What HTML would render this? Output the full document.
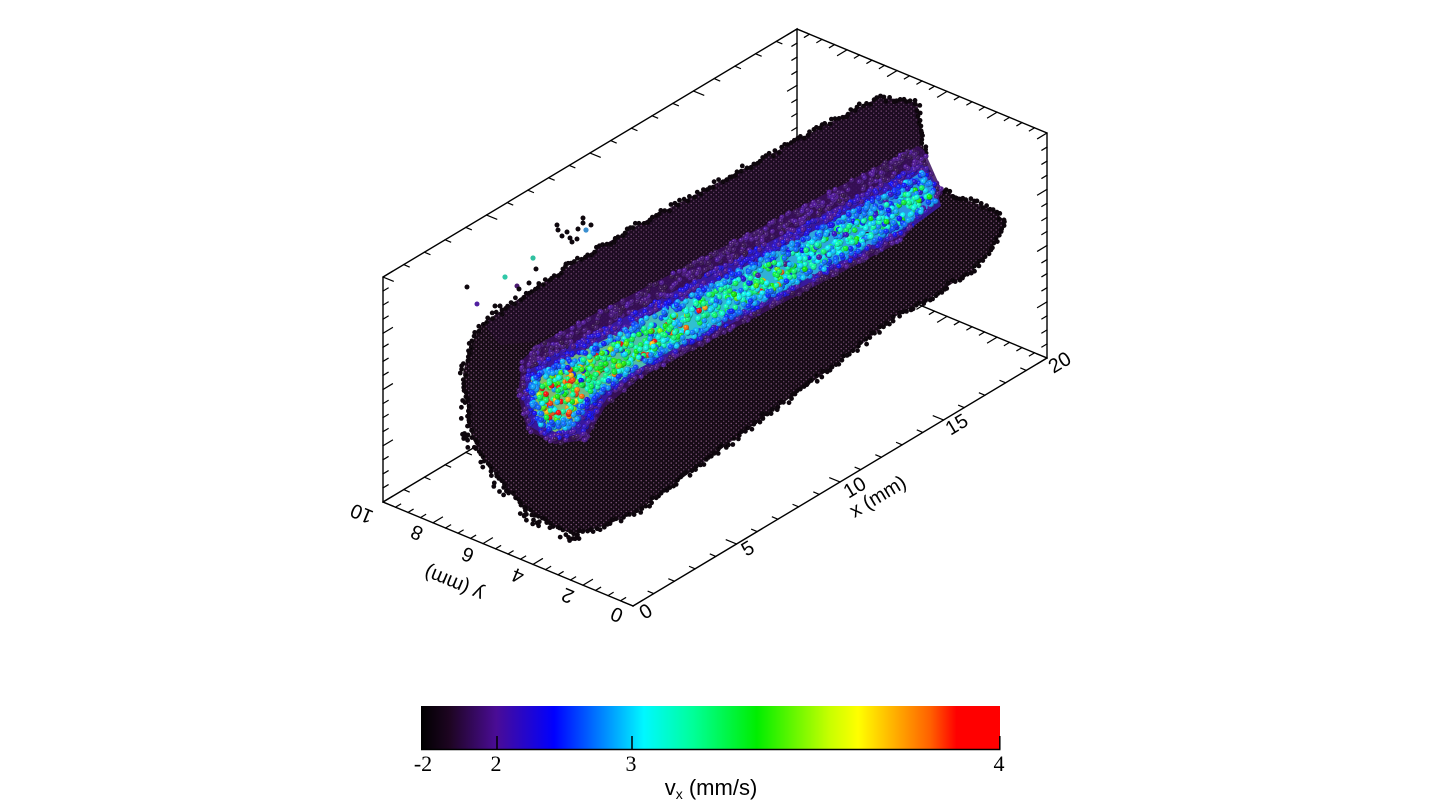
<!DOCTYPE html>
<html><head><meta charset="utf-8">
<style>
html,body{margin:0;padding:0;background:#fff;}
body{width:1440px;height:807px;overflow:hidden;position:relative;}
svg{position:absolute;left:0;top:0;}
</style></head>
<body>
<svg id="s" width="1440" height="807" viewBox="0 0 1440 807" xmlns="http://www.w3.org/2000/svg">
<defs>
 <pattern id="speck" width="5" height="4.4" patternUnits="userSpaceOnUse">
   <rect width="5" height="4.4" fill="#150a14"/>
   <circle cx="1.2" cy="1.1" r="0.7" fill="#8a5c86"/>
   <circle cx="3.7" cy="3.3" r="0.7" fill="#6e4a70"/>
 </pattern>
 <linearGradient id="cb" x1="0" x2="1" y1="0" y2="0">
  <stop offset="0" stop-color="#000000"/>
  <stop offset="0.05" stop-color="#1e0522"/>
  <stop offset="0.13" stop-color="#4a0c96"/>
  <stop offset="0.23" stop-color="#0000ff"/>
  <stop offset="0.31" stop-color="#0080ff"/>
  <stop offset="0.385" stop-color="#00f8ff"/>
  <stop offset="0.47" stop-color="#00ff99"/>
  <stop offset="0.58" stop-color="#00ee00"/>
  <stop offset="0.706" stop-color="#c8ff00"/>
  <stop offset="0.755" stop-color="#ffff00"/>
  <stop offset="0.83" stop-color="#ffa000"/>
  <stop offset="0.88" stop-color="#ff6000"/>
  <stop offset="0.925" stop-color="#ff0000"/>
  <stop offset="1" stop-color="#ff0000"/>
 </linearGradient>
 <linearGradient id="coreg" gradientUnits="userSpaceOnUse" x1="530" y1="0" x2="935" y2="0">
  <stop offset="0" stop-color="#8ab860"/>
  <stop offset="0.4" stop-color="#30c0d0"/>
  <stop offset="1" stop-color="#2a90e8"/>
 </linearGradient>
 <radialGradient id="sh" cx="0.35" cy="0.35" r="0.7">
  <stop offset="0" stop-color="#fff" stop-opacity="0.5"/>
  <stop offset="0.35" stop-color="#fff" stop-opacity="0"/>
  <stop offset="1" stop-color="#000" stop-opacity="0.5"/>
 </radialGradient>
</defs>

<!-- box lines -->
<g stroke="#000" stroke-width="1.4" fill="none" stroke-linecap="square">
 <path d="M383 502 L383 277 L797 29 L797 254 M797 29 L1047 133 L1047 358 M383 502 L797 254 L1047 358 M633 606 L1047 358 M633 606 L383 502"/>
 <path id="ticks" stroke-width="1.2" d=""/>
</g>

<!-- stray particles -->
<g id="stray">
 <circle cx="557" cy="225" r="2.5" fill="#0e070d"/>
 <circle cx="558" cy="230" r="2.5" fill="#0e070d"/>
 <circle cx="567" cy="232" r="2.5" fill="#0e070d"/>
 <circle cx="562" cy="236" r="2.5" fill="#0e070d"/>
 <circle cx="570" cy="238" r="2.5" fill="#0e070d"/>
 <circle cx="572" cy="242" r="2.5" fill="#0e070d"/>
 <circle cx="577" cy="239" r="2.5" fill="#0e070d"/>
 <circle cx="578" cy="229" r="2.5" fill="#0e070d"/>
 <circle cx="583" cy="218" r="2.5" fill="#0e070d"/>
 <circle cx="583" cy="223" r="2.5" fill="#0e070d"/>
 <circle cx="591" cy="225" r="2.5" fill="#0e070d"/>
 <circle cx="586" cy="230" r="2.6" fill="#3a8fd0"/>
 <circle cx="533" cy="258" r="2.6" fill="#30c0a0"/>
 <circle cx="536" cy="269" r="2.5" fill="#0e070d"/>
 <circle cx="566" cy="264" r="2.5" fill="#0e070d"/>
 <circle cx="505" cy="277" r="2.6" fill="#30c8a8"/>
 <circle cx="467" cy="287" r="2.5" fill="#0e070d"/>
 <circle cx="517" cy="286" r="2.5" fill="#4a1a70"/>
 <circle cx="519" cy="289" r="2.5" fill="#0e070d"/>
 <circle cx="529" cy="283" r="2.5" fill="#0e070d"/>
 <circle cx="477" cy="304" r="2.5" fill="#5020a0"/>
 <circle cx="495" cy="306" r="2.5" fill="#0e070d"/>
 <circle cx="500" cy="306" r="2.5" fill="#0e070d"/>
 <circle cx="643" cy="243" r="2.5" fill="#3070c8"/>
</g>

<!-- body -->
<path id="body" fill="url(#speck)" d="M483,323 L520,298 L560,272 L600,247 L643,222 L700,192 L760,160 L820,128 L867,103 L880,98 L900,99 L917,103 L920,120 L923,143 L925,170 L933,187 L960,197 L993,210 L1006,222 L1000,235 L990,250 L983,260 L973,270 L953,283 L923,303 L900,313 L867,340 L833,367 L787,400 L720,450 L653,500 L640,510 L607,525 L580,533 L567,532 L547,523 L527,510 L507,490 L487,463 L473,440 L467,420 L467,400 L463,373 L470,347 L480,327 Z"/>
<path fill="#3a1050" opacity="0.2" d="M483,323 L520,298 L560,272 L600,247 L643,222 L700,192 L760,160 L820,128 L867,103 L880,98 L900,99 L917,103 L920,120 L923,150 L900,158 L800,210 L700,262 L600,314 L532,342 L500,345 Z"/>
<g id="edge"></g>

<!-- halo & core -->
<path fill="#3a0f5e" opacity="0.85" d="M522,360 L540,343 L600,311 L700,259 L800,207 L880,165 L918,146 L924,150 L943,193 L900,242 L800,294 L700,346 L640,378 L605,407 L586,440 L555,444 L527,430 L518,395 Z"/>
<path fill="#3a1aa8" opacity="0.85" d="M527,372 L540,361 L600,330 L700,278 L800,226 L900,174 L922,160 L935,182 L941,206 L900,236 L800,288 L700,340 L640,372 L610,394 L583,434 L552,439 L531,427 L523,398 Z"/>
<path id="corep" fill="url(#coreg)" d="M531,378 L540,373 L600,342 L700,290 L800,238 L900,186 L921,172 L931,180 L937,201 L900,230 L800,282 L700,334 L640,368 L610,387 L586,407 L573,428 L555,432 L539,424 L530,400 Z"/>
<g id="halo"></g>
<g id="core"></g>

<!-- axis labels -->
<g font-family="Liberation Sans, Arial, sans-serif" font-size="20" fill="#000" text-anchor="middle" dominant-baseline="central">
 <text transform="translate(646,612) rotate(-31)">0</text>
 <text transform="translate(748,549) rotate(-31)">5</text>
 <text transform="translate(855,488) rotate(-31)">10</text>
 <text transform="translate(957,425) rotate(-31)">15</text>
 <text transform="translate(1060,363) rotate(-31)">20</text>
 <text transform="translate(878,497) rotate(-31)">x (mm)</text>
 <text transform="translate(617,614) rotate(-157.4)">0</text>
 <text transform="translate(568,595) rotate(-157.4)">2</text>
 <text transform="translate(518,575) rotate(-157.4)">4</text>
 <text transform="translate(468,554) rotate(-157.4)">6</text>
 <text transform="translate(417,532) rotate(-157.4)">8</text>
 <text transform="translate(362,513) rotate(-157.4)">10</text>
 <text transform="translate(454,583) rotate(-157.4)">y (mm)</text>
</g>

<!-- colorbar -->
<rect x="421" y="706" width="579" height="43" fill="url(#cb)"/>
<path d="M421 749.5 H1000.5 M421.8 735 V749 M497 736 V749 M632 736 V749 M999.8 736 V749" stroke="#000" stroke-width="1.5" fill="none"/>
<g font-family="Liberation Serif, Times New Roman, serif" font-size="22" fill="#000" text-anchor="middle">
 <text x="423" y="771">-2</text>
 <text x="496" y="771">2</text>
 <text x="631" y="771">3</text>
 <text x="999" y="771">4</text>
</g>
<text x="711" y="795" text-anchor="middle" font-family="Liberation Sans, Arial, sans-serif" font-size="22" fill="#000">v<tspan font-size="14" dy="4">x</tspan><tspan dy="-4"> (mm/s)</tspan></text>
</svg>

<script>
(function(){
function rng(a){return function(){a|=0;a=a+0x6D2B79F5|0;var t=Math.imul(a^a>>>15,1|a);t=t+Math.imul(t^t>>>7,61|t)^t;return((t^t>>>14)>>>0)/4294967296;};}
var R=rng(98765);
function gauss(){var u=R()||1e-9,v=R();return Math.sqrt(-2*Math.log(u))*Math.cos(2*Math.PI*v);}
var S=[[0,[0,0,0]],[0.05,[30,5,34]],[0.13,[74,12,150]],[0.23,[0,0,255]],[0.31,[0,128,255]],[0.385,[0,248,255]],[0.47,[0,255,153]],[0.58,[0,238,0]],[0.706,[200,255,0]],[0.755,[255,255,0]],[0.83,[255,160,0]],[0.88,[255,96,0]],[0.925,[255,0,0]],[1,[255,0,0]]];
function cm(v){v=Math.max(0,Math.min(1,v));for(var i=1;i<S.length;i++){if(v<=S[i][0]){var a=S[i-1],b=S[i],f=(v-a[0])/(b[0]-a[0]);var c=[0,1,2].map(function(k){return Math.round(a[1][k]+(b[1][k]-a[1][k])*f);});return 'rgb('+c.join(',')+')';}}return 'rgb(255,0,0)';}
function P(x,y,z){return [633+20.7*x-25*y,606-12.4*x-10.4*y-14.0625*z];}
var ux=[0.858,-0.514],uy=[-0.923,-0.384],nux=[-0.858,0.514],nuy=[0.923,0.384];
var t='';
function edge(f,n,maj,d){for(var i=0;i<=n;i++){var p=f(i),L=(i%maj==0)?11:6;t+='M'+p[0].toFixed(1)+' '+p[1].toFixed(1)+'l'+(d[0]*L).toFixed(1)+' '+(d[1]*L).toFixed(1);}}
edge(function(i){return P(i,0,0);},20,5,uy);
edge(function(i){return P(0,i/2,0);},20,4,ux);
edge(function(i){return P(0,10,i);},16,4,ux);
edge(function(i){return P(i,10,16);},20,5,nuy);
edge(function(i){return P(20,10,i);},16,4,nux);
edge(function(i){return P(20,i/2,16);},20,4,nux);
edge(function(i){return P(20,0,i);},16,4,nux);
edge(function(i){return P(i,10,0);},20,5,nuy);
edge(function(i){return P(20,i/2,0);},20,4,nux);
document.getElementById('ticks').setAttribute('d',t);

function pip(x,y,poly){var c=false;for(var i=0,j=poly.length-1;i<poly.length;j=i++){var xi=poly[i][0],yi=poly[i][1],xj=poly[j][0],yj=poly[j][1];if(((yi>y)!=(yj>y))&&(x<(xj-xi)*(y-yi)/(yj-yi)+xi))c=!c;}return c;}
function parse(d){return d.replace(/[MLZ]/g,' ').trim().split(/\s+/).map(function(s){var a=s.split(',');return [+a[0],+a[1]];});}
function pts(id){return parse(document.getElementById(id).getAttribute('d'));}
var core=[[531,378],[540,373],[600,342],[700,290],[800,238],[900,186],[921,172],[931,180],[937,201],[900,230],[800,282],[700,334],[640,368],[610,387],[586,407],[573,428],[555,432],[539,424],[530,400]];
var mid=[[527,372],[540,361],[600,330],[700,278],[800,226],[900,174],[922,160],[935,182],[941,206],[900,236],[800,288],[700,340],[640,372],[610,394],[583,434],[552,439],[531,427],[523,398]];
var outer=[[522,360],[540,343],[600,311],[700,259],[800,207],[880,165],[918,146],[924,150],[943,193],[900,242],[800,294],[700,346],[640,378],[605,407],[586,440],[555,444],[527,430],[518,395]];
var inner=[[538,382],[600,351],[700,299],[800,247],[900,195],[924,183],[932,198],[900,223],[800,275],[700,327],[640,361],[605,381],[580,401],[566,422],[548,422],[536,400]];
function sph(x,y,r,col){return '<circle cx="'+x.toFixed(1)+'" cy="'+y.toFixed(1)+'" r="'+r+'" fill="'+col+'"/><circle cx="'+x.toFixed(1)+'" cy="'+y.toFixed(1)+'" r="'+r+'" fill="url(#sh)"/>';}

// halo spheres
var h='',cnt=0,tries=0;
while(cnt<1200&&tries<40000){tries++;var x=516+R()*430,y=143+R()*305;
 if(!pip(x,y,outer)||pip(x,y,core))continue;
 var v;
 if(pip(x,y,mid)){v=0.12+R()*0.11;}else{if(R()<0.3)continue;v=0.07+R()*0.07;}
 h+=sph(x,y,2.5,cm(v));cnt++;}
document.getElementById('halo').innerHTML=h;

// core spheres
var c='';cnt=0;tries=0;
while(cnt<1500&&tries<60000){tries++;var x=528+R()*412,y=168+R()*268;
 if(!pip(x,y,core))continue;
 var f=(x-540)/390;if(f<0)f=0;if(f>1)f=1;
 var m=0.5-0.13*f;
 var pr=f<0.1?0.24:(f<0.45?0.06:(f<0.7?0.025:0.008));
 var v;
 if(R()<pr){v=0.8+R()*0.17;}else{v=m+gauss()*0.1;}
 if(f>0.65&&v>0.6)v=0.33+R()*0.15;
 if(!pip(x,y,inner)) v=Math.min(v,0.24+R()*0.12);
 c+=sph(x,y,2.8,cm(v));cnt++;}
document.getElementById('core').innerHTML=c;

// rough body edge
var body=pts('body');
var e='';
for(var i=0;i<body.length;i++){var a=body[i],b=body[(i+1)%body.length];var dx=b[0]-a[0],dy=b[1]-a[1],L=Math.sqrt(dx*dx+dy*dy);var n=Math.max(1,Math.round(L/3.5));
 for(var k=0;k<n;k++){var q=k/n;var px=a[0]+dx*q,py=a[1]+dy*q;var nx=-dy/L,ny=dx/L;var o=(R()-0.5)*5;
  px+=nx*o+(R()-0.5)*2;py+=ny*o+(R()-0.5)*2;
  e+='<circle cx="'+px.toFixed(1)+'" cy="'+py.toFixed(1)+'" r="2.4" fill="#0e070d"/>';}}
var cap=[[467,400],[467,420],[473,440],[487,463],[507,490],[527,510],[547,523],[567,532],[580,533]];
for(var i=0;i<35;i++){var j=Math.floor(R()*(cap.length-1));var q=R();var a=cap[j],b=cap[j+1];var px=a[0]+(b[0]-a[0])*q,py=a[1]+(b[1]-a[1])*q;var dx=b[0]-a[0],dy=b[1]-a[1],L=Math.sqrt(dx*dx+dy*dy);var o=3+R()*6;px+=(-dy/L)*o;py+=(dx/L)*o;
 e+='<circle cx="'+px.toFixed(1)+'" cy="'+py.toFixed(1)+'" r="2.4" fill="#0e070d"/>';}
document.getElementById('edge').innerHTML=e;
})();
</script>
</body></html>
